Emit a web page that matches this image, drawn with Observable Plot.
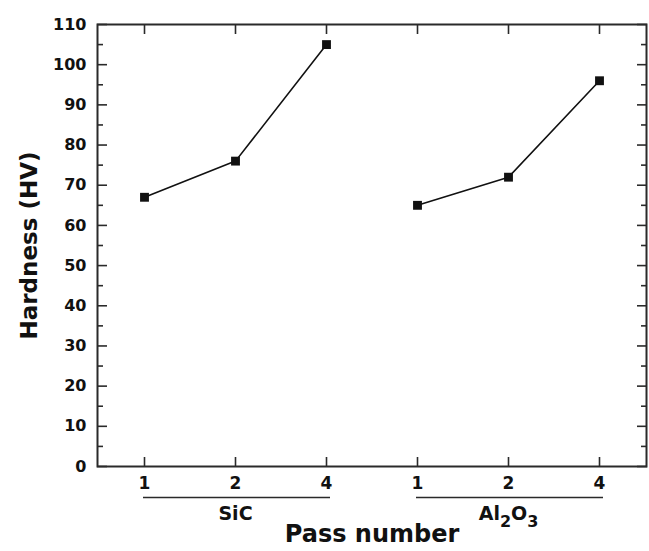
<!DOCTYPE html>
<html><head><meta charset="utf-8">
<script src="https://cdn.jsdelivr.net/npm/d3@7"></script>
<script src="https://cdn.jsdelivr.net/npm/@observablehq/plot@0.6"></script>
<style>
body{margin:0;background:#fff;}
#chart svg{font-family:"DejaVu Sans",sans-serif;font-weight:bold;background:#fff;}
</style></head><body><div id="chart"></div>
<script>
const groups = ["SiC", "Al2O3"];
const passes = [1, 2, 4];
const sicHardness = [67, 76, 105];
const al2o3Hardness = [65, 72, 96];
const yMajorTicks = [0, 10, 20, 30, 40, 50, 60, 70, 80, 90, 100, 110];
const yMinorTicks = [5, 15, 25, 35, 45, 55, 65, 75, 85, 95, 105];
const yLabel = "Hardness (HV)";
const xLabel = "Pass number";

const series = [sicHardness, al2o3Hardness];
const rows = groups.flatMap((g, gi) => passes.map((p, pi) => ({group: g, pass: p, key: g + "-" + p, hardness: series[gi][pi]})));
const keys = rows.map(d => d.key);
const spans = groups.map(g => ({group: g, first: g + "-" + passes[0], mid: g + "-" + passes[1], last: g + "-" + passes[passes.length - 1]}));

const ink = "#2a2a2a";
const plot = Plot.plot({
  width: 649, height: 551,
  marginLeft: 97, marginRight: 3, marginTop: 24, marginBottom: 85,
  style: {fontFamily: '"DejaVu Sans", sans-serif', fontWeight: "bold", color: "#111"},
  x: {type: "point", domain: keys, padding: 0.49, axis: null},
  y: {domain: [0, 110], axis: null},
  marks: [
    Plot.axisY(yMajorTicks, {anchor: "left", tickSize: -10, tickFormat: () => "", stroke: ink, strokeWidth: 1.6, label: null}),
    Plot.axisY(yMinorTicks, {anchor: "left", tickSize: -6, tickFormat: () => "", stroke: ink, strokeWidth: 1.6, label: null}),
    Plot.axisY(yMajorTicks, {anchor: "right", tickSize: -10, tickFormat: () => "", stroke: ink, strokeWidth: 1.6, label: null}),
    Plot.axisY(yMinorTicks, {anchor: "right", tickSize: -6, tickFormat: () => "", stroke: ink, strokeWidth: 1.6, label: null}),
    Plot.axisY(yMajorTicks, {anchor: "left", tickSize: 0, tickPadding: 11, fontSize: 16, label: null, fill: "#111"}),
    Plot.axisX(keys, {anchor: "bottom", tickSize: -9, tickFormat: () => "", stroke: ink, strokeWidth: 1.6, label: null}),
    Plot.axisX(keys, {anchor: "top", tickSize: -9, tickFormat: () => "", stroke: ink, strokeWidth: 1.6, label: null}),
    Plot.axisX(keys, {anchor: "bottom", tickSize: 0, tickPadding: 10, fontSize: 17, tickFormat: k => k.split("-")[1], label: null, fill: "#111"}),
    Plot.frame({stroke: ink, strokeWidth: 2}),
    Plot.ruleY(spans, {y: () => 0, x1: "first", x2: "last", dy: 31, insetRight: -4, insetLeft: -1, stroke: ink, strokeWidth: 1.6}),
    Plot.text(spans, {x: "mid", y: () => 0, dy: 47, text: "group", fontSize: 19, fill: "#111"}),
    Plot.text([yLabel], {frameAnchor: "left", textAnchor: "middle", rotate: -90, dx: -68, text: d => d, fontSize: 23, fill: "#111"}),
    Plot.text([xLabel], {frameAnchor: "bottom", textAnchor: "middle", dy: 75, text: d => d, fontSize: 24, fill: "#111"}),
    Plot.line(rows, {x: "key", y: "hardness", z: "group", stroke: "#111", strokeWidth: 1.6}),
    Plot.dot(rows, {x: "key", y: "hardness", symbol: "square", r: 5, fill: "#111", stroke: null})
  ]
});
document.getElementById("chart").appendChild(plot);

// subscripts for Al2O3
plot.querySelectorAll("text").forEach(t => {
  if (t.textContent === "Al2O3") {
    const NS = "http://www.w3.org/2000/svg";
    t.textContent = "";
    const parts = [["Al", 0, 19], ["2", 7, 16], ["O", -7, 19], ["3", 7, 16]];
    parts.forEach(([s, dy, fs]) => {
      const ts = document.createElementNS(NS, "tspan");
      ts.setAttribute("dy", dy);
      ts.setAttribute("font-size", fs);
      ts.textContent = s;
      t.appendChild(ts);
    });
  }
});
</script></body></html>
